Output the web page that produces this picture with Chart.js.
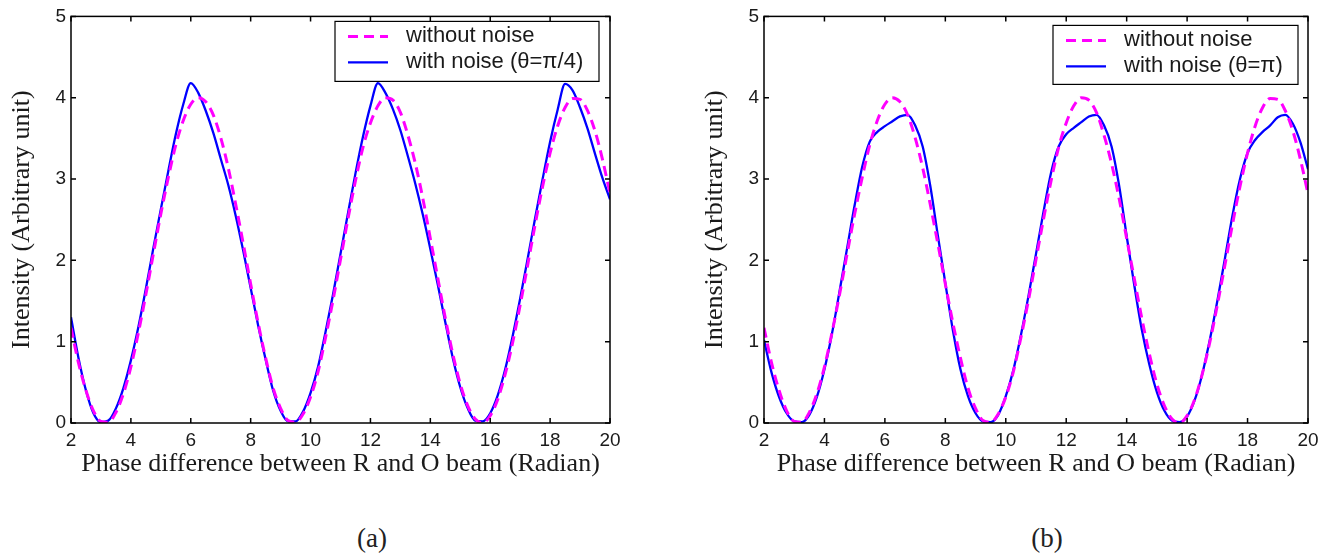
<!DOCTYPE html>
<html>
<head>
<meta charset="utf-8">
<script src="https://cdn.jsdelivr.net/npm/chart.js"></script>
<style>
body { margin: 0; background: #fff; width: 1332px; height: 558px; position: relative; overflow: hidden; }
canvas { position: absolute; top: 0; }
#chartA { left: 0; }
#chartB { left: 666px; }
.cap { position: absolute; top: 523px; font: 27px "Liberation Serif", "Times New Roman", serif; color: #222; transform: translateX(-50%); }
</style>
</head>
<body>
<canvas id="chartA" width="666" height="490"></canvas>
<canvas id="chartB" width="666" height="490"></canvas>
<div class="cap" style="left:372px">(a)</div>
<div class="cap" style="left:1047px">(b)</div>
<script>
// phase difference (radian)
var phase = [2, 2.25, 2.5, 2.75, 3, 3.25, 3.5, 3.75, 4, 4.25,
  4.5, 4.75, 5, 5.25, 5.5, 5.75, 6, 6.25, 6.5, 6.75,
  7, 7.25, 7.5, 7.75, 8, 8.25, 8.5, 8.75, 9, 9.25,
  9.5, 9.75, 10, 10.25, 10.5, 10.75, 11, 11.25, 11.5, 11.75,
  12, 12.25, 12.5, 12.75, 13, 13.25, 13.5, 13.75, 14, 14.25,
  14.5, 14.75, 15, 15.25, 15.5, 15.75, 16, 16.25, 16.5, 16.75,
  17, 17.25, 17.5, 17.75, 18, 18.25, 18.5, 18.75, 19, 19.25,
  19.5, 19.75, 20];

// without noise (same in both panels)
var noNoise = [1.17, 0.74, 0.40, 0.15, 0.02, 0.01, 0.13, 0.36, 0.69, 1.11,
  1.58, 2.08, 2.57, 3.02, 3.42, 3.72, 3.92, 4.00, 3.95, 3.79,
  3.51, 3.14, 2.69, 2.21, 1.71, 1.23, 0.80, 0.43, 0.18, 0.03,
  0.01, 0.11, 0.32, 0.63, 1.05, 1.51, 2.01, 2.51, 2.98, 3.39,
  3.69, 3.90, 4.00, 3.97, 3.82, 3.54, 3.19, 2.76, 2.27, 1.78,
  1.29, 0.85, 0.48, 0.21, 0.05, 0.00, 0.09, 0.29, 0.60, 0.99,
  1.45, 1.94, 2.44, 2.91, 3.32, 3.65, 3.88, 3.99, 3.98, 3.84,
  3.59, 3.24, 2.82];

// with noise, theta = pi/4  (panel a)
var noiseA = [1.30, 0.80, 0.40, 0.12, 0.01, 0.03, 0.18, 0.43, 0.77, 1.18,
  1.65, 2.15, 2.63, 3.10, 3.55, 3.92, 4.18, 4.06, 3.84, 3.57,
  3.25, 2.93, 2.55, 2.12, 1.66, 1.20, 0.78, 0.40, 0.15, 0.02,
  0.02, 0.14, 0.37, 0.69, 1.12, 1.58, 2.08, 2.58, 3.07, 3.52,
  3.90, 4.18, 4.06, 3.86, 3.60, 3.28, 2.94, 2.56, 2.14, 1.70,
  1.24, 0.80, 0.44, 0.18, 0.03, 0.02, 0.12, 0.34, 0.66, 1.07,
  1.53, 2.02, 2.52, 3.00, 3.46, 3.85, 4.17, 4.09, 3.88, 3.62,
  3.31, 3.01, 2.75];

// with noise, theta = pi  (panel b)
var noiseB = [1.02, 0.62, 0.32, 0.12, 0.02, 0.01, 0.10, 0.32, 0.66, 1.10,
  1.62, 2.15, 2.68, 3.15, 3.46, 3.58, 3.65, 3.71, 3.77, 3.79,
  3.66, 3.40, 2.92, 2.31, 1.72, 1.14, 0.66, 0.33, 0.12, 0.02,
  0.01, 0.10, 0.33, 0.65, 1.08, 1.56, 2.08, 2.60, 3.08, 3.40,
  3.55, 3.63, 3.70, 3.77, 3.79, 3.66, 3.40, 2.92, 2.30, 1.70,
  1.15, 0.72, 0.38, 0.15, 0.03, 0.01, 0.08, 0.28, 0.60, 1.02,
  1.50, 2.02, 2.55, 3.00, 3.32, 3.48, 3.58, 3.66, 3.76, 3.79,
  3.68, 3.45, 3.12];

var xTicks = [2, 4, 6, 8, 10, 12, 14, 16, 18, 20];
var yTicks = [0, 1, 2, 3, 4, 5];

Chart.defaults.font.family = '"Liberation Sans", Arial, sans-serif';
Chart.defaults.color = '#1a1a1a';

function pts(ys) {
  return phase.map(function(p, i) { return {x: p, y: ys[i]}; });
}

// matlab style box with inward ticks
var frame = {
  id: 'frame',
  afterDatasetsDraw: function(chart) {
    var ctx = chart.ctx, a = chart.chartArea;
    var x = chart.scales.x, y = chart.scales.y;
    ctx.save();
    ctx.strokeStyle = '#000';
    ctx.lineWidth = 1.5;
    ctx.beginPath();
    xTicks.forEach(function(t) {
      var px = x.getPixelForValue(t);
      ctx.moveTo(px, a.bottom); ctx.lineTo(px, a.bottom - 5);
      ctx.moveTo(px, a.top); ctx.lineTo(px, a.top + 5);
    });
    yTicks.forEach(function(t) {
      var py = y.getPixelForValue(t);
      ctx.moveTo(a.left, py); ctx.lineTo(a.left + 5, py);
      ctx.moveTo(a.right, py); ctx.lineTo(a.right - 5, py);
    });
    ctx.stroke();
    ctx.strokeRect(a.left, a.top, a.right - a.left, a.bottom - a.top);
    ctx.restore();
  }
};

// legend with a box, top right
var boxLegend = {
  id: 'boxLegend',
  afterDraw: function(chart, args, opts) {
    var ctx = chart.ctx, a = chart.chartArea;
    var w = opts.width, h = opts.height;
    var left = a.right - opts.right - w, top = a.top + opts.top;
    ctx.save();
    ctx.fillStyle = '#fff';
    ctx.fillRect(left, top, w, h);
    ctx.strokeStyle = '#000';
    ctx.lineWidth = 1.2;
    ctx.strokeRect(left, top, w, h);
    ctx.font = '22px "Liberation Sans", Arial, sans-serif';
    ctx.textBaseline = 'middle';
    ctx.fillStyle = '#1a1a1a';
    chart.data.datasets.forEach(function(ds, i) {
      var yy = top + 15 + i * 26;
      ctx.strokeStyle = ds.borderColor;
      ctx.lineWidth = ds.borderWidth;
      ctx.setLineDash(ds.borderDash || []);
      ctx.beginPath();
      ctx.moveTo(left + 13, yy);
      ctx.lineTo(left + 53, yy);
      ctx.stroke();
      ctx.setLineDash([]);
      ctx.fillText(ds.label, left + 71, yy);
    });
    ctx.restore();
  }
};

function makeChart(id, noisy, noisyLabel, pad, leg) {
  return new Chart(document.getElementById(id), {
    type: 'line',
    data: {
      datasets: [
        {
          label: 'without noise',
          data: pts(noNoise),
          borderColor: '#ff00ff',
          borderWidth: 3,
          borderDash: [10, 6],
          pointRadius: 0,
          cubicInterpolationMode: 'monotone'
        },
        {
          label: noisyLabel,
          data: pts(noisy),
          borderColor: '#0000ff',
          borderWidth: 2.3,
          pointRadius: 0,
          cubicInterpolationMode: 'monotone'
        }
      ]
    },
    options: {
      responsive: false,
      animation: false,
      layout: { padding: pad },
      plugins: {
        legend: { display: false },
        tooltip: { enabled: false },
        boxLegend: leg
      },
      scales: {
        x: {
          type: 'linear',
          min: 2,
          max: 20,
          afterBuildTicks: function(s) { s.ticks = xTicks.map(function(v) { return {value: v}; }); },
          afterFit: function(s) { s.height = 67; },
          grid: { display: false, drawTicks: false },
          border: { display: false },
          ticks: { font: { size: 19 }, padding: 6, maxRotation: 0 },
          title: {
            display: true,
            text: 'Phase difference between R and O beam (Radian)',
            font: { family: '"Liberation Serif", "Times New Roman", serif', size: 26 },
            padding: { top: 0, bottom: 10 }
          }
        },
        y: {
          min: 0,
          max: 5,
          afterBuildTicks: function(s) { s.ticks = yTicks.map(function(v) { return {value: v}; }); },
          afterFit: function(s) { s.width = 71; },
          grid: { display: false, drawTicks: false },
          border: { display: false },
          ticks: { font: { size: 19 }, padding: 5 },
          title: {
            display: true,
            text: 'Intensity (Arbitrary unit)',
            font: { family: '"Liberation Serif", "Times New Roman", serif', size: 26 },
            padding: { top: 7, bottom: 0 }
          }
        }
      }
    },
    plugins: [frame, boxLegend]
  });
}

makeChart('chartA', noiseA, 'with noise (\u03b8=\u03c0/4)',
  { left: 0, right: 56, top: 11, bottom: 0 },
  { width: 264, height: 60, right: 11, top: 5 });
makeChart('chartB', noiseB, 'with noise (\u03b8=\u03c0)',
  { left: 27, right: 24, top: 13, bottom: 0 },
  { width: 245, height: 59, right: 10, top: 9 });
</script>
</body>
</html>
